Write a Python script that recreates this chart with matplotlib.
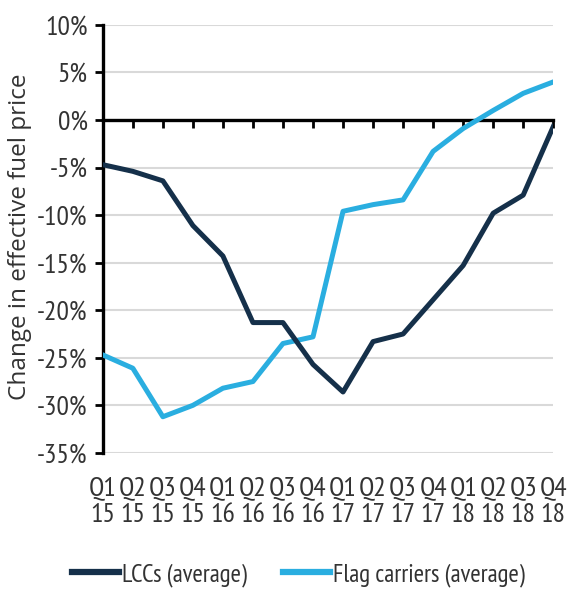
import matplotlib
matplotlib.use("Agg")
import matplotlib.pyplot as plt
from matplotlib.ticker import FuncFormatter

# Quarterly change in effective fuel price, % vs. prior year
quarters = ["Q1\n15", "Q2\n15", "Q3\n15", "Q4\n15",
            "Q1\n16", "Q2\n16", "Q3\n16", "Q4\n16",
            "Q1\n17", "Q2\n17", "Q3\n17", "Q4\n17",
            "Q1\n18", "Q2\n18", "Q3\n18", "Q4\n18"]
lccs = [-4.7, -5.4, -6.4, -11.1, -14.3, -21.3, -21.3, -25.7,
        -28.6, -23.3, -22.5, -18.9, -15.3, -9.8, -7.9, -0.7]
flag_carriers = [-24.7, -26.1, -31.2, -30.0, -28.2, -27.5, -23.5, -22.8,
                 -9.6, -8.9, -8.4, -3.3, -0.9, 1.0, 2.8, 4.0]
y_ticks = [10, 5, 0, -5, -10, -15, -20, -25, -30, -35]

DARK = "#15304a"
LIGHT = "#2aaee0"
TEXT = "#333333"
NARROW = ["PT Sans Narrow", "Roboto Condensed", "DejaVu Sans"]
WIDE = ["Open Sans", "DejaVu Sans"]


def main():
    fig = plt.figure(figsize=(5.68, 5.92), dpi=100)
    ax = fig.add_axes([0.181, 0.235, 0.793, 0.723])

    x = list(range(len(quarters)))
    ax.plot(x, lccs, color=DARK, lw=3.6, solid_joinstyle="round",
            label="LCCs (average)", zorder=4)
    ax.plot(x, flag_carriers, color=LIGHT, lw=3.6, solid_joinstyle="round",
            label="Flag carriers (average)", zorder=3)

    ax.set_xlim(0, len(quarters) - 1)
    ax.set_ylim(min(y_ticks), max(y_ticks))
    ax.set_yticks(y_ticks)
    ax.yaxis.set_major_formatter(FuncFormatter(lambda v, p: f"{v:.0f}%"))
    ax.grid(axis="y", color="#d9d9d9", lw=1.5)
    ax.set_axisbelow(True)

    # zero line carries the category ticks, labels sit below the plot
    for side in ["top", "right"]:
        ax.spines[side].set_visible(False)
    ax.spines["bottom"].set_position(("data", 0))
    ax.spines["bottom"].set_linewidth(2.4)
    ax.spines["bottom"].set_zorder(2)
    ax.spines["left"].set_linewidth(2.4)
    ax.set_xticks(x)
    ax.tick_params(axis="x", direction="out", length=6, width=2,
                   labelbottom=False)
    ax.tick_params(axis="y", direction="out", length=6, width=2, pad=5,
                   labelsize=20)
    for lab in ax.get_yticklabels():
        lab.set_family(NARROW)
        lab.set_color(TEXT)

    sec = ax.secondary_xaxis(0)
    sec.set_xticks(x, quarters)
    sec.tick_params(length=0, pad=17, labelsize=20)
    sec.spines["bottom"].set_visible(False)
    for lab in sec.get_xticklabels():
        lab.set_family(NARROW)
        lab.set_color(TEXT)
        lab.set_linespacing(1.15)

    ax.set_ylabel("Change in effective fuel price", fontsize=17.5,
                  color=TEXT, family=WIDE)
    ax.yaxis.set_label_coords(-0.158, 0.505)

    leg = fig.legend(loc="center", bbox_to_anchor=(0.525, 0.029), ncol=2,
                     frameon=False, handlelength=1.9, handletextpad=0.1,
                     columnspacing=1.45, prop={"family": NARROW, "size": 18})
    for line in leg.get_lines():
        line.set_linewidth(4.5)
    for t in leg.get_texts():
        t.set_color(TEXT)

    fig.savefig("out.png", dpi=100)


if "__main__" == __name__:
    main()
